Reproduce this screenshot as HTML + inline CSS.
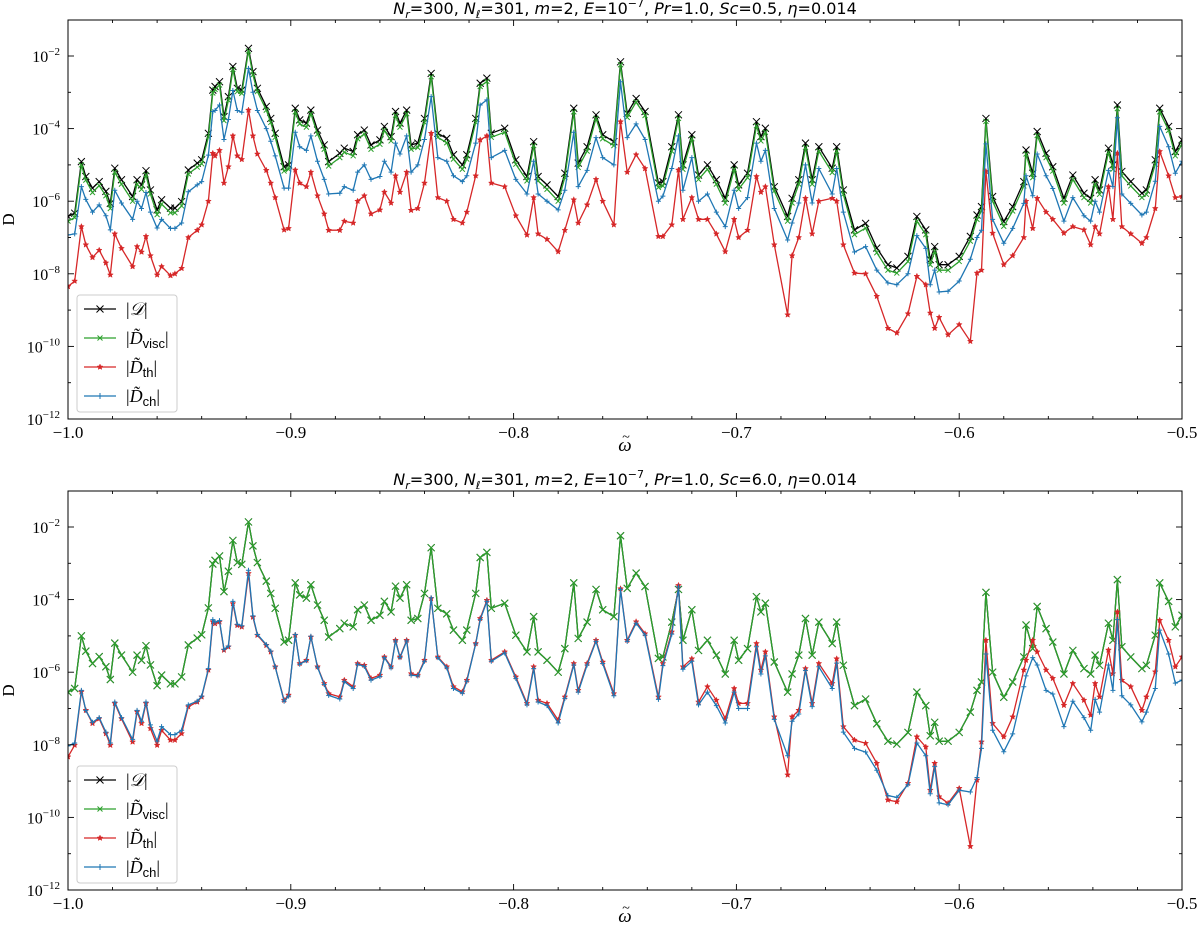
<!DOCTYPE html>
<html><head><meta charset="utf-8"><style>
html,body{margin:0;padding:0;background:#fff;}
svg{display:block;font-family:"Liberation Serif","DejaVu Serif",serif;}
</style></head><body>
<svg id="fig" width="1200" height="930" viewBox="0 0 1200 930" xmlns="http://www.w3.org/2000/svg"></svg>
<script>
const omega = [
-1.000,-0.997,-0.994,-0.992,-0.989,-0.986,-0.983,-0.981,-0.979,-0.976,
-0.971,-0.969,-0.967,-0.965,-0.963,-0.960,-0.958,-0.954,-0.952,-0.949,
-0.946,-0.942,-0.940,-0.937,-0.935,-0.934,-0.932,-0.930,-0.928,-0.926,
-0.924,-0.922,-0.919,-0.917,-0.915,-0.911,-0.909,-0.907,-0.903,-0.901,
-0.898,-0.896,-0.893,-0.891,-0.888,-0.885,-0.883,-0.878,-0.876,-0.872,
-0.870,-0.867,-0.864,-0.860,-0.858,-0.855,-0.853,-0.851,-0.848,-0.846,
-0.843,-0.840,-0.837,-0.834,-0.830,-0.827,-0.823,-0.821,-0.817,-0.815,
-0.812,-0.810,-0.804,-0.799,-0.794,-0.791,-0.789,-0.785,-0.780,-0.777,
-0.773,-0.771,-0.767,-0.763,-0.760,-0.755,-0.752,-0.749,-0.745,-0.741,
-0.735,-0.733,-0.729,-0.726,-0.724,-0.720,-0.717,-0.713,-0.709,-0.705,
-0.701,-0.699,-0.695,-0.691,-0.689,-0.687,-0.683,-0.677,-0.675,-0.672,
-0.669,-0.666,-0.663,-0.657,-0.655,-0.652,-0.647,-0.642,-0.637,-0.632,
-0.628,-0.623,-0.619,-0.615,-0.613,-0.611,-0.609,-0.605,-0.600,-0.595,
-0.592,-0.590,-0.588,-0.585,-0.580,-0.576,-0.571,-0.570,-0.567,-0.565,
-0.561,-0.558,-0.553,-0.549,-0.544,-0.541,-0.539,-0.537,-0.533,-0.531,
-0.529,-0.527,-0.523,-0.518,-0.516,-0.512,-0.510,-0.506,-0.503,-0.500];
// log10 values, top panel (Sc=0.5)
const logD1 = [
-6.42,-6.33,-4.91,-5.32,-5.64,-5.46,-5.73,-6.06,-5.09,-5.41,
-5.87,-5.41,-5.55,-5.16,-5.69,-6.24,-5.96,-6.19,-6.19,-6.01,
-5.14,-4.95,-4.86,-4.13,-2.94,-2.84,-2.71,-3.67,-3.12,-2.29,
-2.89,-2.94,-1.79,-2.43,-2.89,-3.39,-3.72,-4.13,-5.05,-5.00,
-3.44,-3.76,-3.85,-3.49,-4.04,-4.45,-4.91,-4.68,-4.54,-4.63,
-4.17,-4.04,-4.45,-4.31,-3.94,-4.22,-3.53,-3.85,-3.49,-4.45,
-4.40,-3.72,-2.48,-4.13,-4.27,-4.72,-5.00,-4.72,-3.72,-2.75,
-2.61,-4.13,-3.99,-4.86,-5.32,-4.36,-5.32,-5.55,-5.87,-5.23,
-3.44,-4.95,-4.50,-3.62,-4.17,-4.36,-2.16,-3.58,-3.17,-3.53,
-5.50,-5.46,-4.50,-3.62,-5.00,-4.17,-5.28,-5.00,-5.41,-5.92,
-5.00,-5.55,-5.23,-3.81,-4.22,-3.99,-5.60,-6.42,-5.92,-5.41,
-4.40,-5.41,-4.50,-5.09,-4.50,-5.69,-6.79,-6.61,-7.29,-7.75,
-7.84,-7.52,-6.42,-6.79,-7.61,-7.25,-7.75,-7.75,-7.52,-6.97,
-6.38,-6.15,-3.72,-5.87,-6.56,-6.15,-5.46,-4.59,-5.23,-4.08,
-4.68,-5.05,-5.92,-5.28,-5.78,-5.92,-5.41,-5.69,-4.54,-5.00,
-3.35,-5.18,-5.46,-5.78,-5.69,-4.86,-3.44,-3.94,-4.63,-4.31];
const logVisc1 = [
-6.55,-6.45,-5.0,-5.42,-5.76,-5.57,-5.85,-6.2,-5.2,-5.53,
-6.0,-5.53,-5.67,-5.27,-5.8,-6.37,-6.08,-6.32,-6.32,-6.13,
-5.25,-5.06,-4.97,-4.23,-3.02,-2.92,-2.8,-3.78,-3.22,-2.37,
-2.98,-3.03,-1.86,-2.52,-2.98,-3.49,-3.83,-4.24,-5.17,-5.12,
-3.54,-3.87,-3.96,-3.59,-4.15,-4.57,-5.03,-4.8,-4.65,-4.75,
-4.28,-4.15,-4.57,-4.43,-4.05,-4.34,-3.63,-3.96,-3.59,-4.57,
-4.52,-3.83,-2.57,-4.24,-4.39,-4.84,-5.12,-4.84,-3.83,-2.84,
-2.7,-4.24,-4.1,-4.98,-5.44,-4.47,-5.44,-5.67,-6.0,-5.35,
-3.54,-5.07,-4.62,-3.72,-4.28,-4.47,-2.24,-3.69,-3.27,-3.64,
-5.62,-5.58,-4.62,-3.72,-5.12,-4.28,-5.4,-5.12,-5.53,-6.05,
-5.12,-5.67,-5.35,-3.92,-4.34,-4.1,-5.72,-6.55,-6.05,-5.53,
-4.52,-5.53,-4.62,-5.21,-4.62,-5.81,-6.92,-6.74,-7.42,-7.9,
-7.98,-7.66,-6.55,-6.92,-7.75,-7.38,-7.9,-7.9,-7.66,-7.1,
-6.5,-6.27,-3.8,-6.0,-6.69,-6.27,-5.58,-4.7,-5.35,-4.19,
-4.8,-5.17,-6.05,-5.4,-5.9,-6.05,-5.53,-5.81,-4.65,-5.12,
-3.45,-5.3,-5.58,-5.9,-5.81,-4.98,-3.54,-4.05,-4.75,-4.43];
const logTh1 = [
-8.35,-8.2,-6.7,-7.2,-7.55,-7.35,-7.7,-8.03,-6.9,-7.3,
-7.8,-7.25,-7.4,-6.97,-7.5,-8.03,-7.8,-8.05,-8.0,-7.85,
-7.0,-6.8,-6.65,-6.0,-4.68,-4.75,-4.6,-5.5,-5.05,-4.2,
-4.75,-4.85,-3.49,-4.2,-4.7,-5.15,-5.5,-5.9,-6.79,-6.75,
-5.14,-5.5,-5.6,-5.2,-5.85,-6.35,-6.8,-6.8,-6.55,-6.6,
-6.0,-5.85,-6.35,-6.24,-5.75,-6.05,-5.3,-5.75,-5.2,-6.25,
-6.2,-5.5,-4.13,-5.9,-6.0,-6.5,-6.6,-6.3,-5.3,-4.31,
-4.2,-5.5,-5.6,-6.4,-6.93,-5.9,-6.9,-7.05,-7.39,-6.8,
-5.96,-6.6,-6.1,-5.4,-6.0,-6.65,-3.81,-5.2,-4.72,-5.1,
-6.97,-6.97,-6.65,-5.14,-6.5,-5.9,-6.5,-6.5,-6.9,-7.39,
-6.5,-7.0,-6.8,-5.32,-5.75,-5.6,-7.2,-9.13,-7.5,-7.0,
-5.92,-6.9,-6.0,-5.92,-6.0,-7.2,-7.98,-8.0,-8.62,-9.5,
-9.63,-9.1,-8.07,-8.3,-9.08,-9.5,-9.2,-9.68,-9.4,-9.86,
-7.98,-7.9,-5.18,-6.88,-7.75,-7.5,-7.0,-6.0,-6.75,-5.92,
-6.3,-6.5,-6.88,-6.7,-6.79,-7.2,-6.7,-6.9,-5.6,-6.5,
-4.68,-6.7,-6.9,-7.16,-7.0,-6.2,-4.63,-5.3,-5.9,-5.87];
const logCh1 = [
-6.93,-6.9,-5.6,-5.95,-6.3,-6.1,-6.4,-6.79,-5.7,-6.05,
-6.5,-6.0,-6.2,-5.76,-6.3,-6.74,-6.5,-6.75,-6.75,-6.6,
-5.74,-5.55,-5.46,-4.73,-3.53,-3.5,-3.35,-4.3,-3.75,-2.95,
-3.5,-3.55,-2.34,-3.0,-3.5,-4.0,-4.35,-4.75,-5.64,-5.64,
-4.1,-4.5,-4.6,-4.2,-4.9,-5.4,-5.8,-5.78,-5.6,-5.7,
-5.2,-5.0,-5.4,-5.32,-4.9,-5.2,-4.4,-4.7,-4.2,-5.2,
-5.0,-4.3,-3.12,-4.8,-4.9,-5.3,-5.46,-5.3,-4.4,-3.35,
-3.21,-4.8,-4.6,-5.4,-5.8,-4.9,-5.8,-6.0,-6.24,-5.7,
-4.1,-5.6,-5.15,-4.25,-4.8,-5.0,-2.71,-4.25,-3.87,-4.3,
-6.0,-5.86,-5.1,-4.2,-5.7,-4.8,-6.0,-5.8,-6.3,-6.7,
-5.7,-6.2,-5.9,-4.4,-4.9,-4.6,-6.2,-7.07,-6.6,-6.05,
-5.0,-6.05,-5.1,-5.8,-5.1,-6.3,-7.4,-7.25,-7.9,-8.25,
-8.3,-8.0,-6.95,-7.3,-8.3,-7.9,-8.5,-8.48,-8.2,-7.6,
-7.0,-6.8,-4.42,-6.5,-7.16,-6.75,-6.06,-5.3,-5.85,-4.7,
-5.3,-5.65,-6.55,-5.9,-6.4,-6.55,-6.0,-6.3,-5.15,-5.6,
-3.7,-5.8,-6.06,-6.38,-6.3,-5.45,-3.94,-4.5,-5.23,-4.9];
// bottom panel (Sc=6.0)
const logD2 = logVisc1;
const logVisc2 = logVisc1;
const logTh2 = [
-8.33,-8.01,-6.54,-7.05,-7.41,-7.28,-7.69,-8.01,-6.86,-7.28,
-7.92,-7.09,-7.41,-6.86,-7.55,-8.01,-7.6,-7.87,-7.87,-7.69,
-6.95,-6.82,-6.68,-5.94,-4.61,-4.66,-4.61,-5.39,-5.3,-4.11,
-4.71,-4.75,-3.28,-4.48,-4.98,-5.26,-5.44,-5.85,-6.77,-6.63,
-4.98,-5.76,-5.67,-5.03,-5.85,-6.31,-6.59,-6.68,-6.22,-6.4,
-5.76,-5.81,-6.17,-6.08,-5.58,-5.85,-5.12,-5.58,-5.12,-6.04,
-6.08,-5.67,-3.97,-5.58,-5.85,-6.4,-6.54,-6.22,-5.21,-4.52,
-4.02,-5.67,-5.44,-6.13,-6.86,-5.85,-6.77,-6.86,-7.32,-6.68,
-5.76,-6.5,-5.76,-5.12,-5.72,-6.59,-3.7,-5.12,-4.61,-4.94,
-6.68,-5.76,-4.89,-3.61,-5.85,-5.63,-6.82,-6.4,-6.77,-7.28,
-6.45,-6.86,-6.86,-5.21,-5.94,-5.44,-7.23,-8.83,-7.23,-7.05,
-5.9,-6.86,-5.76,-6.31,-5.63,-7.5,-7.87,-7.96,-8.51,-9.52,
-9.57,-9.06,-7.78,-8.06,-9.25,-8.51,-9.43,-9.61,-9.2,-10.8,
-8.97,-7.92,-5.12,-7.41,-7.78,-7.23,-5.94,-5.67,-5.12,-5.44,
-5.94,-6.17,-6.91,-6.31,-6.77,-7.18,-6.31,-6.68,-5.39,-6.04,
-4.34,-6.22,-6.4,-7.05,-6.68,-5.99,-4.57,-5.12,-5.85,-5.58];
const logCh2 = [
-8.03,-7.95,-6.5,-7.05,-7.38,-7.25,-7.65,-7.95,-6.82,-7.25,
-7.85,-7.05,-7.35,-6.82,-7.45,-7.9,-7.5,-7.72,-7.72,-7.6,
-6.9,-6.8,-6.66,-5.9,-4.55,-4.62,-4.58,-5.37,-5.28,-4.05,
-4.68,-4.72,-3.19,-4.45,-4.96,-5.24,-5.42,-5.85,-6.8,-6.66,
-4.96,-5.78,-5.68,-5.01,-5.86,-6.34,-6.64,-6.74,-6.26,-6.45,
-5.78,-5.84,-6.22,-6.12,-5.6,-5.88,-5.14,-5.6,-5.14,-6.08,
-6.1,-5.7,-3.95,-5.6,-5.88,-6.45,-6.58,-6.25,-5.22,-4.55,
-4.05,-5.7,-5.47,-6.17,-6.9,-5.9,-6.82,-6.92,-7.4,-6.72,
-5.8,-6.55,-5.8,-5.15,-5.76,-6.65,-3.72,-5.15,-4.65,-4.98,
-6.75,-5.82,-4.95,-3.65,-5.92,-5.7,-6.9,-6.55,-6.92,-7.4,
-6.55,-7.0,-7.0,-5.3,-6.05,-5.55,-7.3,-8.3,-7.35,-7.15,
-5.95,-6.95,-5.85,-6.45,-5.75,-7.65,-8.1,-8.2,-8.7,-9.4,
-9.45,-9.1,-7.95,-8.3,-9.35,-8.6,-9.6,-9.65,-9.25,-9.3,
-8.9,-8.1,-5.5,-7.6,-8.19,-7.7,-6.4,-6.1,-5.6,-5.8,
-6.5,-6.6,-7.5,-6.8,-7.25,-7.6,-6.75,-7.1,-5.8,-6.5,
-4.55,-6.65,-6.9,-7.37,-7.1,-6.45,-4.84,-5.5,-6.3,-6.22];
const yTickExps = [-2,-4,-6,-8,-10,-12];
const xTickVals = [-1.0,-0.9,-0.8,-0.7,-0.6,-0.5];
const xTickLabels = ["\u22121.0","\u22120.9","\u22120.8","\u22120.7","\u22120.6","\u22120.5"];

const NS = "http://www.w3.org/2000/svg";
const svg = document.getElementById('fig');
function mk(tag, attrs, parent){const e=document.createElementNS(NS,tag);for(const k in attrs)e.setAttribute(k,attrs[k]);(parent||svg).appendChild(e);return e;}
const X0=68, X1=1182;
function xs(w){return X0+(w+1)/0.5*(X1-X0);}
const DEC=36.3;

const COLORS={D:'#000000',visc:'#2ca02c',th:'#d62728',ch:'#1f77b4'};
function marker(g,type,x,y,c,s){
  let d='';
  if(type==='x'){d=`M${x-s},${y-s}L${x+s},${y+s}M${x-s},${y+s}L${x+s},${y-s}`;}
  else if(type==='+'){d=`M${x-s},${y}L${x+s},${y}M${x},${y-s}L${x},${y+s}`;}
  if(type==='*'){
    let p='';for(let i=0;i<10;i++){const r=i%2?s*0.45:s;const a=-Math.PI/2+i*Math.PI/5;p+=(i?'L':'M')+(x+r*Math.cos(a)).toFixed(1)+','+(y+r*Math.sin(a)).toFixed(1);}
    const m=mk('path',{d:p+'Z',fill:c,stroke:c,'stroke-width':0.5},g);
    
    
    return;
  }
  const m=mk('path',{d:d,stroke:c,'stroke-width':1,fill:'none'},g);
  
  
}

function panel(top, title, series, name){
  const bottom=top+399;
  const y2=top+36;
  const ys=e=>y2+(-2-e)*DEC;
  const g=mk('g',{});
  
  
  const clipId='clip'+top;
  const cp=mk('clipPath',{id:clipId},g);mk('rect',{x:X0,y:top,width:X1-X0,height:bottom-top},cp);
  const plot=mk('g',{'clip-path':`url(#${clipId})`},g);
  
  
  for(const s of series){
    const sg=mk('g',{},plot);
    
    
    let d='';omega.forEach((w,i)=>{d+=(i?'L':'M')+xs(w).toFixed(1)+','+ys(s.vals[i]).toFixed(1);});
    const ln=mk('path',{d:d,stroke:COLORS[s.key],'stroke-width':1.3,fill:'none','stroke-linejoin':'round'},sg);
    
    
    omega.forEach((w,i)=>marker(sg,s.m,xs(w),ys(s.vals[i]),COLORS[s.key],s.sz));
  }
  const fr=mk('rect',{x:X0,y:top,width:X1-X0,height:bottom-top,fill:'none',stroke:'#000','stroke-width':1},g);
  
  
  for(let k=0;k<=25;k++){
    const w=-1+k*0.02;const x=xs(w);const major=k%5===0;const L=major?6:3;
    mk('line',{x1:x,y1:bottom,x2:x,y2:bottom-L,stroke:'#000','stroke-width':0.9},g);
    mk('line',{x1:x,y1:top,x2:x,y2:top+L,stroke:'#000','stroke-width':0.9},g);
  }
  xTickVals.forEach((v,i)=>{
    const t=mk('text',{x:xs(v),y:bottom+19,'font-size':17,'text-anchor':'middle'},g);t.textContent=xTickLabels[i];
    
    
  });
  for(let e=-12;e<=-1;e++){
    const y=ys(e);if(y<top)continue;const major=yTickExps.includes(e);const L=major?6:3;
    mk('line',{x1:X0,y1:y,x2:X0+L,y2:y,stroke:'#000','stroke-width':0.9},g);
    mk('line',{x1:X1,y1:y,x2:X1-L,y2:y,stroke:'#000','stroke-width':0.9},g);
  }
  yTickExps.forEach(e=>{
    const t=mk('text',{x:X0-8,y:ys(e)+6,'font-size':16,'text-anchor':'end'},g);
    
    
    t.textContent='10';
    const sup=mk('tspan',{dy:-7,'font-size':11},t);sup.textContent='\u2212'+(-e);
  });
  const yl=mk('text',{x:14,y:(top+bottom)/2,'font-size':17,'text-anchor':'middle',transform:`rotate(-90 14 ${(top+bottom)/2})`},g);
  yl.textContent='D';
  
  
  const xl=mk('text',{x:625,y:bottom+32,'font-size':19,'text-anchor':'middle','font-style':'italic'},g);
  xl.textContent='\u03c9';
  
  
  const xt=mk('text',{x:626,y:bottom+22,'font-size':14,'text-anchor':'middle'},g);
  xt.textContent='~';
  
  
  const tt=mk('text',{x:625,y:top-6,'font-size':16,'text-anchor':'middle','font-family':'DejaVu Sans, Liberation Sans, sans-serif'},g);
  
  
  tt.setAttribute('xml:space','preserve');
  tt.innerHTML=`<tspan font-style="italic">N</tspan><tspan font-size="11" dy="4" font-style="italic">r</tspan><tspan dy="-4">=300,  </tspan><tspan font-style="italic">N</tspan><tspan font-size="11" dy="4" font-style="italic">ℓ</tspan><tspan dy="-4">=301,  </tspan><tspan font-style="italic">m</tspan>=2,  <tspan font-style="italic">E</tspan>=10<tspan font-size="11" dy="-7">−7</tspan><tspan dy="7">,  </tspan><tspan font-style="italic">Pr</tspan>=1.0,  <tspan font-style="italic">Sc</tspan>=${title},  <tspan font-style="italic">η</tspan>=0.014`;
  const lg=mk('g',{},g);
  
  
  const ly=top+275;
  mk('rect',{x:77,y:ly,width:100,height:117,rx:3,fill:'#fff','fill-opacity':0.85,stroke:'#ccc','stroke-width':1},lg);
  const labels=[['D','x','',3.5],['visc','x','visc',2.5],['th','*','th',3],['ch','+','ch',3]];
  labels.forEach((L,i)=>{
    const yy=ly+14+i*29;
    const e=mk('g',{},lg);
    
    
    mk('line',{x1:84,y1:yy,x2:116,y2:yy,stroke:COLORS[L[0]],'stroke-width':1.3},e);
    marker(e,L[1],100,yy,COLORS[L[0]],L[3]);
    const t=mk('text',{x:126,y:yy+6,'font-size':18},e);
    if(L[0]==='D'){t.innerHTML='|<tspan font-style="italic">𝒟</tspan>|';}
    else{t.innerHTML=`|<tspan font-style="italic">D̃</tspan><tspan font-size="13" dy="4" font-family="Liberation Sans, sans-serif">${L[2]}</tspan><tspan dy="-4">|</tspan>`;}
  });
}
panel(20,'0.5',[
  {key:'D',vals:logD1,m:'x',sz:3.5},
  {key:'visc',vals:logVisc1,m:'x',sz:2.5},
  {key:'th',vals:logTh1,m:'*',sz:3},
  {key:'ch',vals:logCh1,m:'+',sz:2.5}],'top-panel');
panel(491,'6.0',[
  {key:'D',vals:logD2,m:'x',sz:3.5},
  {key:'visc',vals:logVisc2,m:'x',sz:3.5},
  {key:'th',vals:logTh2,m:'*',sz:3},
  {key:'ch',vals:logCh2,m:'+',sz:2.5}],'bottom-panel');
</script>
</body></html>
